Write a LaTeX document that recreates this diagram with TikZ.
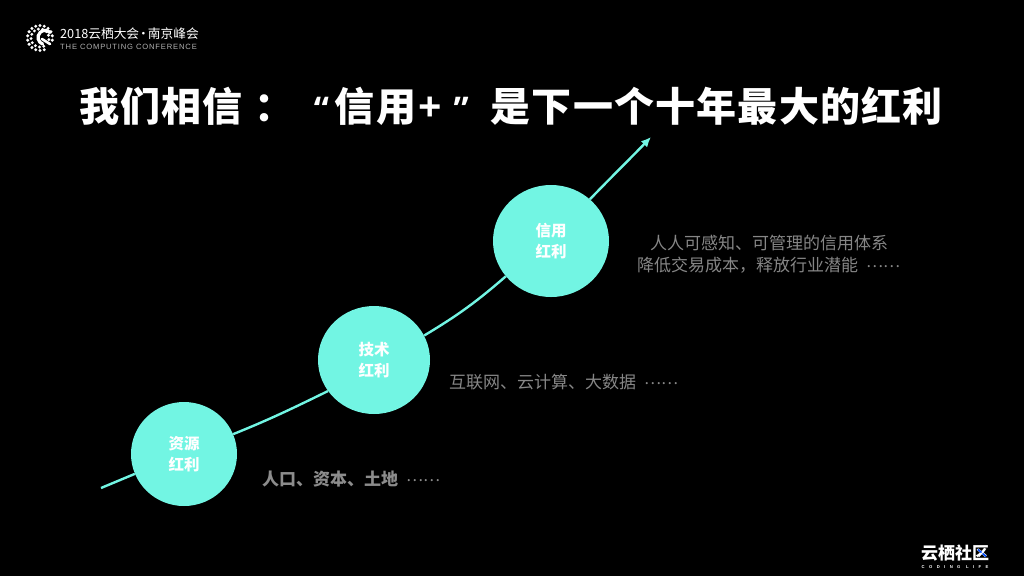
\documentclass[tikz,border=0pt]{standalone}
\usepackage{fontspec}
\usetikzlibrary{arrows.meta,calc,shapes.geometric}
\setmainfont{Liberation Sans}
\newfontfamily\cjk{Noto Sans CJK SC}
\newfontfamily\titlecjk[LetterSpace=3]{Noto Sans CJK SC}
\newfontfamily\quotefont{Open Sans}
\definecolor{mint}{HTML}{72F5E3}
\newcommand{\moredots}{\kern8pt\raisebox{4pt}{\cjk\mdseries\fontsize{16}{17}\selectfont ……}}
\newcommand{\tq}[1]{{\quotefont\bfseries\fontsize{34}{37}\selectfont #1}}
\tikzset{
 bubble/.style={ellipse,fill=mint,draw=none,inner sep=0pt,text=white,align=center,font=\cjk\bfseries\fontsize{15.5}{21.5}\selectfont},
 curve/.style={draw=mint,line width=2.4pt},
 note/.style={inner sep=0pt,text=#1,align=left,anchor=west,font=\cjk\fontsize{17}{17}\selectfont}
}
\begin{document}
\begin{tikzpicture}[x=1pt,y=-1pt]
\useasboundingbox[fill=black] (0,0) rectangle (1024,576);
% title
\node[inner sep=0pt,text=white,anchor=west] (title) at (79,106) {\titlecjk\bfseries\fontsize{40}{41}\selectfont 我们相信\kern12pt ：\kern19pt\tq{“}\kern6pt 信用\kern2pt{\quotefont\bfseries\fontsize{41}{41}\selectfont +}\kern12pt\tq{”}\kern22pt 是下一个十年最大的红利};
% circles
\node[bubble,minimum width=106pt,minimum height=104pt] (a) at (184,454) {资源\\红利};
\node[bubble,minimum width=112pt,minimum height=108pt] (b) at (374,360) {技术\\红利};
\node[bubble,minimum width=116pt,minimum height=112pt] (c) at (551,241) {信用\\红利};
\coordinate (start) at (101,488);
\coordinate (tip) at (651,137);
\draw[curve] (start) -- (a.202);
\draw[curve] (a.22) to[out=22,in=206] (b.214);
\draw[curve] (b.26) to[out=31,in=221] (c.218);
\draw[curve,-{Latex[length=10pt,width=9pt]}] (c.47) to[out=46,in=226] (tip);
% notes
\node[note=gray!90,font=\cjk\bfseries\fontsize{17}{17}\selectfont] (n1) at (262,479) {人口、资本、土地\moredots};
\node[note=gray!95] (n2) at (449,382) {互联网、云计算、大数据\moredots};
\node[note=gray!95] (n3) at (650,243) {人人可感知、可管理的信用体系};
\node[note=gray!95] (n4) at (637,265) {降低交易成本，释放行业潜能\moredots};
% header logo
\coordinate (lg) at (40,38);
\foreach \r/\n/\s in {12.5/18/3.4,9/13/3.2}{
 \foreach \i in {1,...,\n}{
  \pgfmathsetmacro\ang{360*\i/\n+10}
  \ifdim\ang pt>60pt
   \fill[white] ($(lg)+(\ang:\r)$) circle (\s/2);
  \fi
 }
}
\draw[white,line width=3.2pt,line cap=round] (50,32.5) arc (-45:-250:7);
\draw[white,line width=2.6pt,line cap=round] (42,39) -- (50,44);
\node[inner sep=0pt,anchor=west,text=white] (h1) at (60,33.5) {\cjk\fontsize{12.7}{13}\selectfont 2018云栖大会\kern-2pt·\kern-2pt南京峰会};
\node[inner sep=0pt,anchor=west,text=white!70!black] (h2) at (60,47) {\fontsize{7.6}{8}\selectfont\addfontfeature{LetterSpace=11}THE COMPUTING CONFERENCE};
% footer logo
\node[inner sep=0pt,anchor=center,text=white] (f1) at (955,553) {\cjk\bfseries\fontsize{17}{17}\selectfont 云栖社区};
\draw[blue!70!cyan,line width=1.6pt] (978,549.5) -- (986,556.5);
\draw[white,line width=1.1pt] (985,549.5) -- (979,556.5);
\node[inner sep=0pt,anchor=center,text=white] (f2) at (955,567) {\bfseries\fontsize{4.2}{5}\selectfont\addfontfeature{LetterSpace=105}CODING LIFE};
\end{tikzpicture}
\end{document}
